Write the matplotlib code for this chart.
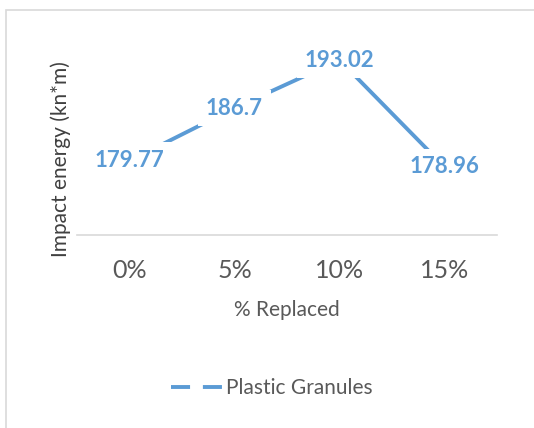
import matplotlib
matplotlib.use("Agg")
import matplotlib.pyplot as plt
from matplotlib.lines import Line2D
from matplotlib.patches import Rectangle

# data
categories = ["0%", "5%", "10%", "15%"]
impact_energy = [179.77, 186.7, 193.02, 178.96]
series_name = "Plastic Granules"

blue = "#5B9BD5"
grey_text = "#595959"
grey_line = "#D9D9D9"

plt.rcParams["font.family"] = ["Lato", "DejaVu Sans"]

W, H = 534, 428
fig = plt.figure(figsize=(W / 100, H / 100), dpi=100)

# chart border (only left and top visible in the crop)
fig.patches.append(Rectangle((6 / W, -0.1), 1.2, (H - 10) / H + 0.1,
                             transform=fig.transFigure, fill=False,
                             edgecolor=grey_line, linewidth=1.2))

ax = fig.add_axes([77 / W, (H - 235) / H, 420 / W, 190 / H])
x = list(range(len(categories)))
ax.plot(x, impact_energy, color=blue, linewidth=2.8, solid_capstyle="butt", zorder=2)

# data labels with white box hiding the line, like Excel
for xi, v in zip(x, impact_energy):
    ax.text(xi, v, f"{v:g}", ha="center", va="center", color=blue,
            fontsize=16, fontweight="bold", zorder=3,
            bbox=dict(boxstyle="square,pad=0.35", facecolor="white", edgecolor="none"))

ax.set_xlim(-0.5, len(categories) - 0.5)
ax.set_ylim(170, 195)
ax.set_xticks(x)
ax.set_xticklabels(categories, fontsize=18, color=grey_text)
ax.tick_params(axis="x", length=0, pad=17)
ax.set_yticks([])
for s in ["top", "right", "left"]:
    ax.spines[s].set_visible(False)
ax.spines["bottom"].set_color(grey_line)
ax.spines["bottom"].set_linewidth(1.2)

fig.text(287 / W, 1 - 310 / H, "% Replaced", ha="center", va="center",
         fontsize=15, color=grey_text)
fig.text(61 / W, 1 - 159 / H, "Impact energy (kn*m)", ha="center", va="center",
         rotation=90, fontsize=15, color="#404040")

handle = Line2D([], [], color=blue, linewidth=2.8, dashes=(4.9, 3.3))
leg = fig.legend([handle], [series_name], loc="center", bbox_to_anchor=(272 / W, 1 - 388 / H),
                 frameon=False, fontsize=15, handlelength=2.45, handletextpad=0.2)
for t in leg.get_texts():
    t.set_color(grey_text)

fig.savefig("out.png", dpi=100)
